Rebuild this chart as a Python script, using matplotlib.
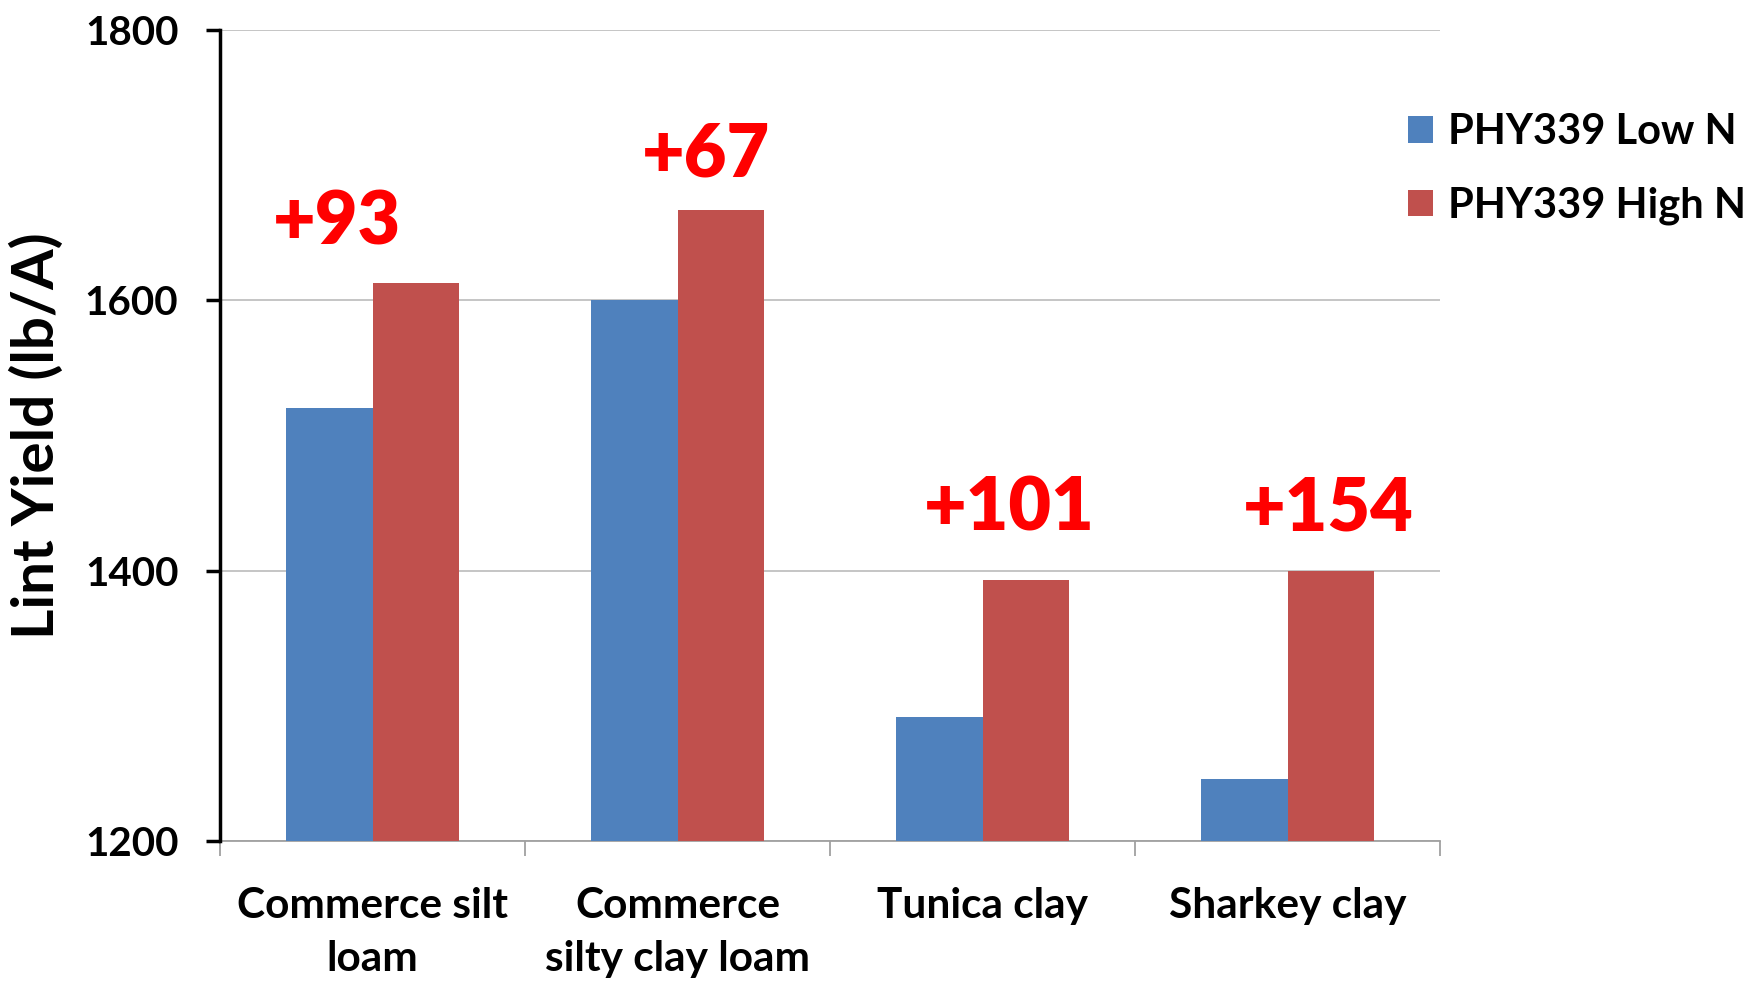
import matplotlib
matplotlib.use("Agg")
import matplotlib.pyplot as plt
import numpy as np

# dane
soils = ["Commerce silt\nloam", "Commerce\nsilty clay loam", "Tunica clay", "Sharkey clay"]
low_n = [1520, 1600, 1292, 1246]
high_n = [1613, 1667, 1393, 1400]
series_names = ["PHY339 Low N", "PHY339 High N"]

plt.rcParams['font.family'] = ['Lato', 'DejaVu Sans']
plt.rcParams['font.weight'] = 'bold'
plt.rcParams['axes.labelweight'] = 'bold'

fig = plt.figure(figsize=(17.48, 9.84), dpi=100)
ax = fig.add_axes([0.1259, 0.1453, 0.6979, 0.8242])

x = np.arange(len(soils))
w = 0.285
ax.bar(x - w/2, low_n, w, color='#4F81BD', label=series_names[0], zorder=3)
ax.bar(x + w/2, high_n, w, color='#C0504D', label=series_names[1], zorder=3)

ax.set_ylim(1200, 1800)
ax.set_xlim(-0.5, len(soils) - 0.5)
ax.set_yticks([1200, 1400, 1600, 1800])
ax.grid(axis='y', color='#c0c0c0', linewidth=1.3, zorder=0)

ax.spines['top'].set_visible(False)
ax.spines['right'].set_visible(False)
ax.spines['left'].set_linewidth(2.5)
ax.spines['left'].set_color('black')
ax.spines['bottom'].set_color('#a0a0a0')
ax.spines['bottom'].set_linewidth(1.3)
ax.spines['left'].set_zorder(4)

ax.tick_params(axis='y', length=10, width=2.5, pad=20, labelsize=29)
ax.set_xticks(x)
ax.set_xticklabels(soils, fontsize=30.5, linespacing=1.5)
ax.tick_params(axis='x', length=0, pad=33)
ax.set_xticks(np.arange(len(soils) + 1) - 0.5, minor=True)
ax.tick_params(axis='x', which='minor', length=11, width=1.3, color='#a0a0a0')

ax.set_ylabel("Lint Yield (lb/A)", fontsize=42)
ax.yaxis.set_label_coords(-0.128, 0.5)

# przyrosty plonu
dx = [-0.116, 0.093, 0.087, 0.133]
lab_y = [1657, 1707, 1445, 1445]
for i in range(len(soils)):
    d = high_n[i] - low_n[i]
    ax.text(x[i] + dx[i], lab_y[i], "+%d" % d, color='red', fontsize=53,
            ha='center', va='center', fontweight='heavy')

leg = fig.legend(loc='upper left', bbox_to_anchor=(0.784, 0.923), frameon=False,
                 fontsize=30, handlelength=0.6, handleheight=0.6,
                 handletextpad=0.35, labelspacing=0.85)

fig.savefig("out.png", dpi=100)
